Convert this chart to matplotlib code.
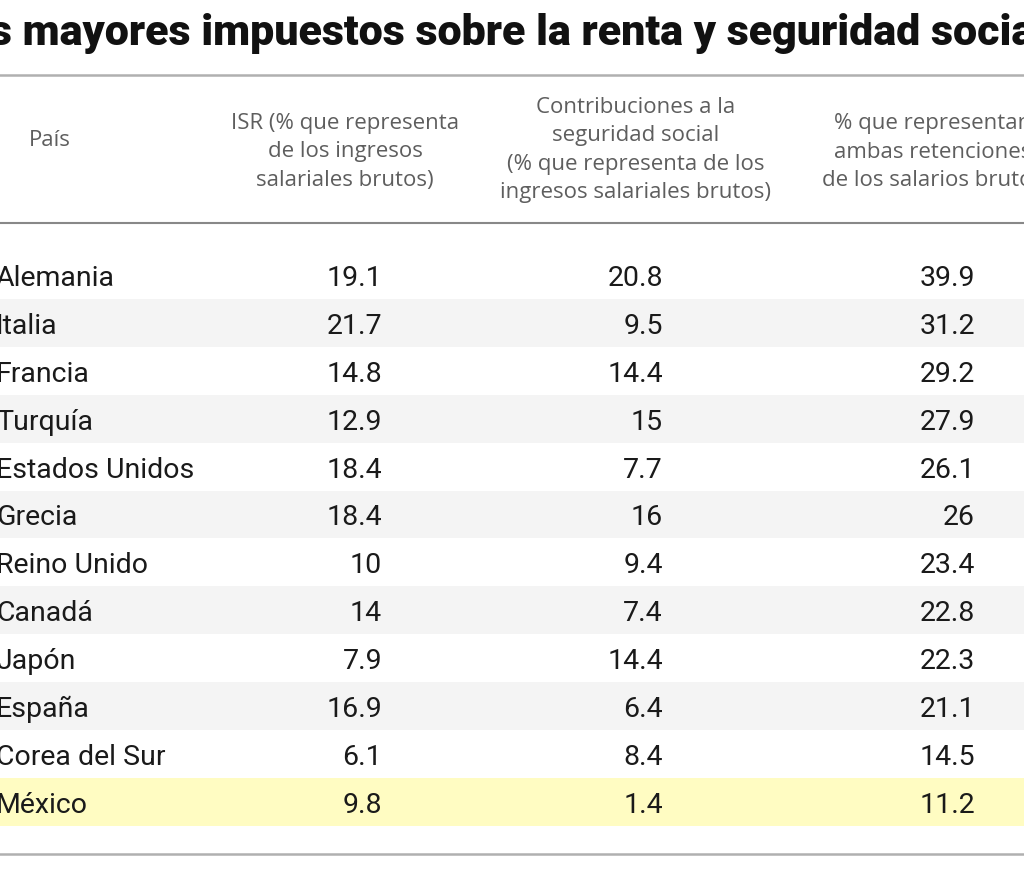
import matplotlib.pyplot as plt
from matplotlib.patches import Rectangle

paises = ["Alemania", "Italia", "Francia", "Turquía", "Estados Unidos", "Grecia",
          "Reino Unido", "Canadá", "Japón", "España", "Corea del Sur", "México"]
isr = ["19.1", "21.7", "14.8", "12.9", "18.4", "18.4", "10", "14", "7.9", "16.9", "6.1", "9.8"]
seg_social = ["20.8", "9.5", "14.4", "15", "7.7", "16", "9.4", "7.4", "14.4", "6.4", "8.4", "1.4"]
total = ["39.9", "31.2", "29.2", "27.9", "26.1", "26", "23.4", "22.8", "22.3", "21.1", "14.5", "11.2"]

titulo = "los mayores impuestos sobre la renta y seguridad social"
encabezados = ["País",
               "ISR (% que representa\nde los ingresos\nsalariales brutos)",
               "Contribuciones a la\nseguridad social\n(% que representa de los\ningresos salariales brutos)",
               "% que representan\nambas retenciones\nde los salarios brutos"]

fig = plt.figure(figsize=(10.24, 8.78), dpi=100)
ax = fig.add_axes([0, 0, 1, 1])
ax.set_xlim(0, 1024)
ax.set_ylim(878, 0)
ax.axis("off")

# titulo (recortado como en la imagen original)
ax.text(-46, 33, titulo, fontsize=31, fontweight="heavy", family="Roboto",
        va="center", ha="left", color="#111111")

ax.axhline(76, color="#b0b0b0", lw=1.8)
ax.axhline(224, color="#888888", lw=1.5)
ax.axhline(855, color="#b0b0b0", lw=1.8)

hdr = dict(fontsize=16, family="Open Sans", color="#5e5e5e", va="center",
           linespacing=1.46, multialignment="center")
ax.text(29, 141, encabezados[0], ha="left", **hdr)
ax.text(345, 152, encabezados[1], ha="center", **hdr)
ax.text(636, 150, encabezados[2], ha="center", **hdr)
ax.text(933, 152, encabezados[3], ha="center", **hdr)

y0, dy = 276, 47.9
for i, p in enumerate(paises):
    y = y0 + i * dy
    if p == "México":
        ax.add_patch(Rectangle((0, y - dy / 2), 1024, dy, color="#fffcc2", lw=0))
    elif i % 2 == 1:
        ax.add_patch(Rectangle((0, y - dy / 2), 1024, dy, color="#f4f4f4", lw=0))
    cell = dict(fontsize=20.5, family="Roboto", color="#1a1a1a", va="center")
    ax.text(-4, y + 2.5, p, ha="left", **cell)
    ax.text(382, y + 2.5, isr[i], ha="right", **cell)
    ax.text(663, y + 2.5, seg_social[i], ha="right", **cell)
    ax.text(975, y + 2.5, total[i], ha="right", **cell)

fig.savefig("out.png", dpi=100)
